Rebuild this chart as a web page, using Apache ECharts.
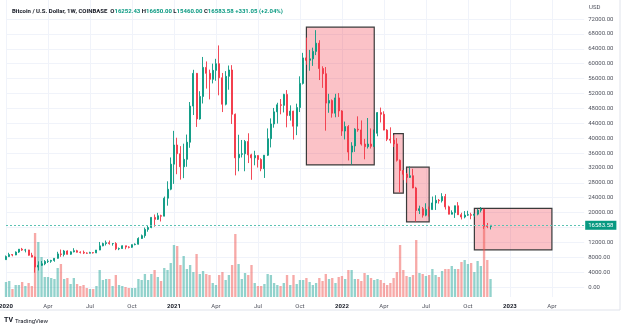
<!DOCTYPE html>
<html><head><meta charset="utf-8">
<script src="https://cdn.jsdelivr.net/npm/echarts@6/dist/echarts.min.js"></script>
<style>html,body{margin:0;padding:0;background:#fff}#c{width:624px;height:325px}</style>
</head><body><div id="c"></div>
<script>
// ---- data ----
const firstWeek = '2020-01-06';
const weekSlots = 180; // weekly slots on the time scale (incl. future space)
const monthNames = ['Jan','Feb','Mar','Apr','May','Jun','Jul','Aug','Sep','Oct','Nov','Dec'];
const priceTicks = [0,4000,8000,12000,20000,24000,28000,32000,36000,40000,44000,48000,52000,56000,60000,64000,68000,72000];
const lastPrice = 16583.58;
const headerName = 'Bitcoin / U.S. Dollar, 1W, COINBASE';
const headerOHLC = ['16252.43','16650.00','15460.00','16583.58'];
const headerChange = '+331.05 (+2.04%)';

// weekly candles: [open, close, low, high]
const ohlc = [
[7350,8180,7350,8460],[8180,8700,8050,9190],[8700,8600,8250,8780],[8600,9380,8560,9560],
[9380,10160,9140,10180],[10160,9920,9700,10500],[9920,9960,9300,10250],[9960,8530,8400,9990],
[8530,8030,8000,9190],[8030,5360,3850,8180],[5360,5820,4440,6900],[5820,6240,5670,6970],
[6240,6870,5860,7220],[6870,6920,6460,7470],[6920,7130,6500,7300],[7130,7700,6780,7780],
[7700,8890,7620,9460],[8890,8750,8110,10070],[8750,9680,8200,9950],[9680,8790,8700,9840],
[8790,9450,8640,9600],[9450,9750,9300,10430],[9750,9340,9250,9990],[9340,9300,9000,9590],
[9300,9120,8850,9790],[9120,9070,8900,9300],[9070,9250,9050,9470],[9250,9170,9000,9350],
[9170,9930,9100,9950],[9930,11050,9900,12100],[11050,11680,10950,11920],[11680,11910,11150,12480],
[11910,11660,11380,12480],[11660,11680,11100,11800],[11680,10250,9900,12050],[10250,10330,9900,10600],
[10330,11080,10250,11180],[11080,10730,10140,11080],[10730,10670,10380,10950],[10670,11380,10530,11430],
[11380,11500,11200,11720],[11500,13030,11400,13350],[13030,13800,12900,14100],[13800,15480,13230,15960],
[15480,15980,14850,16480],[15980,18700,15800,18800],[18700,18180,16200,19480],[18180,19150,18000,19920],
[19150,19030,17600,19420],[19030,23860,19000,24300],[23860,26270,21850,28400],[26270,33000,26000,34800],
[33000,38150,27700,41950],[38150,35800,30300,40100],[35800,32300,28850,37850],[32300,34300,29250,38500],
[34300,38900,32300,40950],[38900,48600,37400,49700],[48600,57400,46200,58350],[57400,45150,43000,57500],
[45150,51200,44950,52600],[51200,59000,49300,61800],[59000,57400,53300,60600],[57400,55800,50400,58400],
[55800,58200,54700,60000],[58200,60000,55400,61300],[60000,56200,51500,64900],[56200,49100,47000,57500],
[49100,56600,48800,58000],[56600,58300,53000,59500],[58300,46400,43800,59600],[46400,34700,30000,46600],
[34700,35650,31100,40900],[35650,35800,34800,39500],[35800,39100,31100,39500],[39100,35500,33300,41300],
[35500,34700,28800,35800],[34700,35300,32700,36600],[35300,34250,32100,35400],[34250,31780,31100,34600],
[31780,35400,29300,35400],[35400,39850,35200,42600],[39850,43800,37500,45300],[43800,47050,42800,48100],
[47050,48950,43900,49500],[48950,48800,46400,50500],[48800,51750,46900,51900],[51750,46050,42900,52900],
[46050,47250,44700,48800],[47250,43200,39600,47350],[43200,48200,40800,49250],[48200,54700,47000,56600],
[54700,61550,54400,62900],[61550,60900,59700,67000],[60900,61300,58100,63700],[61300,63300,59400,64300],
[63300,65500,62300,69000],[65500,58700,55600,66300],[58700,57300,53500,59300],[57300,49400,42000,59100],
[49400,50100,46800,51900],[50100,46700,45500,50400],[46700,50800,45600,51900],[50800,47300,45700,52100],
[47300,41900,40600,47500],[41900,43100,39650,44450],[43100,36250,34000,43500],[36250,37900,32900,38900],
[37900,42400,36300,42650],[42400,42200,41700,45850],[42200,38400,38000,44750],[38400,37700,34300,39800],
[37700,38400,37200,45400],[38400,37800,37200,42600],[37800,41300,37600,42300],[41300,46850,40500,47000],
[46850,46400,44200,48200],[46400,42150,42100,47200],[42150,39700,39200,42400],[39700,39450,38600,42900],
[39450,38450,37600,40800],[38450,34050,33700,40000],[34050,31300,25400,34250],[31300,30300,28700,31400],
[30300,29450,28000,30650],[29450,29900,29300,32400],[29900,26600,26550,31750],[26600,20550,17600,26900],
[20550,21030,19600,21850],[21030,19300,18650,21500],[19300,20850,19000,22500],[20850,20800,18900,21600],
[20800,22580,20750,24300],[22580,23300,20700,24650],[23300,23170,22400,23650],[23170,24300,22700,25200],
[24300,21530,20800,25000],[21530,19550,19520,21850],[19550,19990,19520,20600],[19990,21830,18550,21850],
[21830,19420,19350,22800],[19420,18800,18150,19950],[18800,19310,18450,20400],[19310,19420,19100,20470],
[19420,19270,18200,19950],[19270,19570,18900,19700],[19570,20630,19250,21000],[20630,20900,20050,21480],
[20900,16300,15600,21000],[16300,16250,15800,17200],[16252.43,16583.58,15460,16650]
];

// weekly volume (thousand BTC)
const volumes = [
150,160,80,120,120,150,110,140,110,640,550,400,200,200,190,180,290,330,180,190,
130,190,130,110,120,90,80,80,110,270,170,180,180,110,220,120,110,100,90,90,
90,180,170,230,170,230,270,200,160,290,270,340,520,510,320,410,280,320,250,430,
230,260,230,220,140,120,220,250,170,220,320,630,330,180,240,220,320,140,110,110,
130,230,220,140,120,110,140,220,120,220,130,170,170,190,150,120,140,190,160,230,
180,190,140,200,210,180,270,270,180,180,160,240,220,190,170,180,170,140,120,140,
190,250,520,270,210,200,220,570,240,230,210,220,280,220,200,260,280,280,310,280,
280,350,370,330,340,250,360,310,720,370,180
];

// annotation boxes: [startWeek, endWeek, topPrice, bottomPrice]
const zones = [
['2021-10-18','2022-03-14',69800,32800],
['2022-04-25','2022-05-16',41200,25200],
['2022-05-23','2022-07-11',32200,17500],
['2022-10-17','2023-04-03',21100,10000]
];

// ---- build ----
const weeks = [];
{
  const d0 = new Date(firstWeek + 'T00:00:00Z');
  for (let i = 0; i < weekSlots; i++) {
    const d = new Date(d0.getTime() + i * 7 * 86400000);
    weeks.push(d.toISOString().slice(0, 10));
  }
}
const isQuarterStart = (s) => {
  const m = +s.slice(5, 7), d = +s.slice(8, 10);
  return d <= 7 && (m - 1) % 3 === 0;
};
const UP = '#089981', DOWN = '#f23645';
const volData = volumes.map((v, i) => ({
  value: v,
  itemStyle: { color: ohlc[i][1] >= ohlc[i][0] ? 'rgba(38,166,154,0.5)' : 'rgba(239,83,80,0.5)' }
}));

const FONT = 'Roboto, "Liberation Sans", sans-serif';
const gridL = 6, gridR = 39.8;

const chart = echarts.init(document.getElementById('c'), null, { renderer: 'canvas' });
chart.setOption({
  animation: false,
  backgroundColor: '#ffffff',
  textStyle: { fontFamily: FONT },
  title: {
    left: 7, top: 3,
    text: `{d|${headerName}}  {d|O}{g|${headerOHLC[0]}} {d|H}{g|${headerOHLC[1]}} {d|L}{g|${headerOHLC[2]}} {d|C}{g|${headerOHLC[3]}} {g|${headerChange}}`,
    textStyle: {
      fontSize: 6, fontFamily: FONT,
      rich: {
        d: { color: '#131722', fontSize: 6, fontFamily: FONT },
        g: { color: UP, fontSize: 6, fontFamily: FONT }
      }
    }
  },
  grid: [
    { left: gridL, right: gridR, top: 19, bottom: 38, outerBoundsMode: 'none', containLabel: false },
    { left: gridL, right: gridR, top: 0, bottom: 28, outerBoundsMode: 'none', containLabel: false }
  ],
  xAxis: [
    { type: 'category', gridIndex: 0, data: weeks, boundaryGap: false,
      axisLine: { show: false }, axisTick: { show: false }, axisLabel: { show: false }, splitLine: { show: false } },
    { type: 'category', gridIndex: 1, data: weeks, boundaryGap: false,
      axisLine: { show: false }, axisTick: { show: false },
      axisLabel: {
        interval: (idx, val) => isQuarterStart(val),
        margin: 6, fontSize: 6, color: '#50535e', fontFamily: FONT,
        formatter: (val) => {
          const m = +val.slice(5, 7);
          return m === 1 ? `{y|${val.slice(0, 4)}}` : monthNames[m - 1];
        },
        rich: { y: { fontWeight: 'bold', color: '#131722', fontSize: 6, fontFamily: FONT } }
      },
      splitLine: { show: true, interval: (idx, val) => isQuarterStart(val), lineStyle: { color: '#f0f3fa', width: 1 } }
    }
  ],
  yAxis: [
    { type: 'value', gridIndex: 0, position: 'right', min: 0, max: 72000, interval: 4000,
      axisLine: { show: false }, axisTick: { show: false },
      axisLabel: { margin: 4, fontSize: 6, color: '#50535e', fontFamily: FONT,
        formatter: (v) => priceTicks.includes(v) ? v.toFixed(2) : '' },
      splitLine: { show: true, lineStyle: { color: '#f0f3fa', width: 1 } } },
    { type: 'value', gridIndex: 1, min: 0, max: 2970, show: false, splitLine: { show: false } }
  ],
  series: [
    { type: 'bar', name: 'Volume', xAxisIndex: 1, yAxisIndex: 1, data: volData,
      barWidth: '72%', clip: false, z: 1 },
    { type: 'candlestick', name: 'BTCUSD', xAxisIndex: 0, yAxisIndex: 0, data: ohlc, clip: false, z: 3,
      barWidth: 1.5,
      itemStyle: { color: UP, color0: DOWN, borderColor: UP, borderColor0: DOWN, borderWidth: 0.9 },
      markArea: {
        silent: true,
        itemStyle: { color: 'rgba(242,54,69,0.3)', borderColor: '#3a3a3a', borderWidth: 1.2 },
        data: zones.map(z => [{ xAxis: z[0], yAxis: z[2] }, { xAxis: z[1], yAxis: z[3] }])
      },
      markLine: {
        silent: true, symbol: ['none', 'none'],
        lineStyle: { color: '#5cc2b2', type: [2, 2], width: 1, opacity: 1 },
        label: { show: true, position: 'end', distance: 1, formatter: lastPrice.toFixed(2),
          backgroundColor: UP, color: '#ffffff', fontSize: 6, padding: [2, 3, 1, 3], fontFamily: FONT },
        data: [{ yAxis: lastPrice }]
      }
    }
  ],
  graphic: [
    { type: 'text', left: 589, top: 4, style: { text: 'USD', fontSize: 6, fill: '#50535e', fontFamily: FONT } },
    { type: 'line', shape: { x1: 620, y1: 0, x2: 620, y2: 310 }, style: { stroke: '#e0e3eb', lineWidth: 1 } },
    { type: 'line', shape: { x1: 0, y1: 310, x2: 620, y2: 310 }, style: { stroke: '#e0e3eb', lineWidth: 1 } },
    { type: 'text', left: 4, top: 317, style: { text: 'TV', fontSize: 7, fontWeight: 'bold', fill: '#131722', fontFamily: FONT } },
    { type: 'text', left: 15, top: 318, style: { text: 'TradingView', fontSize: 6, fill: '#131722', fontFamily: FONT } }
  ]
});
</script>
</body></html>
